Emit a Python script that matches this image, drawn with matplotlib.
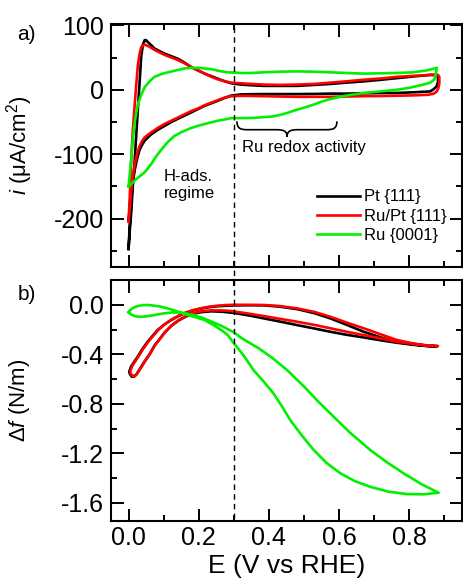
import matplotlib
matplotlib.use("Agg")
import matplotlib.pyplot as plt
from matplotlib.ticker import MultipleLocator, FixedLocator
from matplotlib.path import Path
from matplotlib.patches import PathPatch
from matplotlib.lines import Line2D
import matplotlib.transforms as mtransforms

plt.rcParams['font.family'] = ['Liberation Sans', 'DejaVu Sans']
plt.rcParams['mathtext.fontset'] = 'custom'
plt.rcParams['mathtext.rm'] = 'Liberation Sans'
plt.rcParams['mathtext.it'] = 'Liberation Sans:italic'
plt.rcParams['axes.unicode_minus'] = False

# ---------------- data: panel a (cyclic voltammograms) ----------------
labels = ["Pt {111}", "Ru/Pt {111}", "Ru {0001}"]
colors = ["#000000", "#ff0000", "#00f000"]

pt_cv_E = [0.000, 0.004, 0.008, 0.012, 0.017, 0.022, 0.027, 0.032, 0.036, 0.041, 0.046, 0.050,
           0.055, 0.065, 0.074, 0.088, 0.103, 0.122, 0.141, 0.160, 0.179, 0.198, 0.217, 0.236,
           0.255, 0.275, 0.293, 0.320, 0.350, 0.385, 0.430, 0.480, 0.530, 0.575, 0.620, 0.670,
           0.720, 0.765, 0.810, 0.860, 0.879, 0.882, 0.882, 0.878, 0.870, 0.860, 0.810, 0.765,
           0.720, 0.670, 0.620, 0.575, 0.530, 0.480, 0.430, 0.385, 0.340, 0.320, 0.293, 0.275,
           0.255, 0.236, 0.217, 0.198, 0.179, 0.160, 0.141, 0.122, 0.103, 0.084, 0.065, 0.055,
           0.046, 0.038, 0.031, 0.024, 0.017, 0.012, 0.008, 0.004, 0.000]
pt_cv_i = [-247, -215, -188, -150, -115, -70, -27, 15, 51, 70, 77, 77,
           74, 69, 64, 60, 56, 52, 48, 42, 35, 30, 25, 21,
           17, 13, 10, 8, 7, 6, 6, 6, 7.5, 9, 11, 13,
           15.5, 18, 20.5, 23, 23, 20, 12, 5, 1, -2.6, -4, -5,
           -5, -5.5, -6, -6, -6.5, -6.7, -6.7, -6.7, -7, -7.3, -9, -12.5,
           -17, -21, -25, -30, -35, -40, -45, -50, -56, -62, -69, -74,
           -79, -86, -94, -108, -126, -145, -167, -205, -247]

rupt_cv_E = [0.000, 0.004, 0.008, 0.012, 0.017, 0.022, 0.027, 0.032, 0.036, 0.041, 0.046, 0.055,
             0.065, 0.074, 0.088, 0.103, 0.122, 0.141, 0.160, 0.179, 0.198, 0.217, 0.236, 0.255,
             0.275, 0.293, 0.320, 0.350, 0.385, 0.430, 0.480, 0.530, 0.575, 0.620, 0.670, 0.720,
             0.765, 0.810, 0.860, 0.882, 0.886, 0.886, 0.883, 0.878, 0.870, 0.855, 0.810, 0.765,
             0.720, 0.670, 0.620, 0.575, 0.530, 0.480, 0.430, 0.385, 0.340, 0.320, 0.293, 0.275,
             0.255, 0.236, 0.217, 0.198, 0.179, 0.160, 0.141, 0.122, 0.103, 0.084, 0.065, 0.055,
             0.046, 0.038, 0.031, 0.024, 0.017, 0.012, 0.008, 0.004, 0.000]
rupt_cv_i = [-204, -160, -105, -65, -27, 8, 40, 57, 66, 69, 70, 68,
             65, 62, 58, 54, 50, 46, 41, 35, 30, 25, 20, 16,
             13, 11, 10, 9, 8, 7.5, 8, 9, 11, 13, 15.5, 17.5,
             20, 21.5, 23, 23, 20, 10, 2, -3, -6, -7.8, -8.8, -9.3,
             -9.7, -10, -10.5, -11, -11, -11, -10.5, -10, -9.5, -9.5, -10, -12,
             -16, -20, -24, -29, -33, -38, -43, -48, -53, -59, -66, -70,
             -74, -80, -88, -100, -118, -136, -155, -180, -204]

ru_cv_E = [0.000, 0.004, 0.008, 0.012, 0.017, 0.022, 0.027, 0.036, 0.046, 0.060, 0.074, 0.092,
           0.112, 0.135, 0.160, 0.180, 0.198, 0.217, 0.236, 0.260, 0.283, 0.320, 0.350, 0.385,
           0.430, 0.480, 0.530, 0.575, 0.620, 0.670, 0.720, 0.765, 0.810, 0.850, 0.879, 0.876,
           0.872, 0.860, 0.841, 0.800, 0.765, 0.720, 0.670, 0.620, 0.575, 0.550, 0.528, 0.505,
           0.480, 0.455, 0.433, 0.410, 0.385, 0.360, 0.338, 0.320, 0.293, 0.275, 0.255, 0.225,
           0.198, 0.175, 0.150, 0.130, 0.112, 0.098, 0.084, 0.074, 0.065, 0.055, 0.046, 0.030,
           0.017, 0.008, 0.000]
ru_cv_i = [-150, -128, -105, -78, -53, -36, -22, -8, 4, 13, 20, 24,
           27, 30, 33, 34, 34, 33, 32, 29, 27, 26, 26, 27,
           28, 28.5, 28, 27, 26, 25, 25.5, 26, 27, 30, 34, 25,
           16, 11, 8, 3, 0, -2.5, -5, -9, -14.5, -18.5, -23, -27,
           -31, -35.5, -39, -41.5, -42.5, -43.5, -44, -44, -44, -46, -48, -52,
           -56, -60, -66, -72, -81, -90, -99.5, -107, -115, -122, -128, -135,
           -141, -146, -150]

# ---------------- data: panel b (surface stress change) ----------------
pt_df_E = [0.010, 0.004, 0.002, 0.007, 0.014, 0.026, 0.039, 0.054, 0.069, 0.083, 0.102, 0.121,
           0.140, 0.159, 0.182, 0.206, 0.229, 0.254, 0.279, 0.311, 0.350, 0.385, 0.430, 0.480,
           0.530, 0.575, 0.620, 0.670, 0.720, 0.765, 0.810, 0.850, 0.879, 0.850, 0.810, 0.765,
           0.720, 0.670, 0.620, 0.575, 0.530, 0.480, 0.430, 0.385, 0.350, 0.320, 0.293, 0.265,
           0.236, 0.207, 0.179, 0.160, 0.141, 0.122, 0.103, 0.088, 0.074, 0.060, 0.046, 0.032,
           0.022, 0.016, 0.010]
pt_df_v = [-0.580, -0.562, -0.541, -0.500, -0.470, -0.420, -0.360, -0.300, -0.250, -0.204, -0.160, -0.124,
           -0.095, -0.070, -0.048, -0.032, -0.020, -0.012, -0.008, -0.005, -0.004, -0.005, -0.015, -0.035,
           -0.068, -0.110, -0.160, -0.218, -0.265, -0.299, -0.320, -0.332, -0.336, -0.334, -0.323, -0.307,
           -0.288, -0.264, -0.242, -0.218, -0.192, -0.164, -0.135, -0.110, -0.090, -0.075, -0.064, -0.056,
           -0.053, -0.060, -0.076, -0.100, -0.130, -0.170, -0.224, -0.280, -0.330, -0.400, -0.457, -0.520,
           -0.565, -0.580, -0.580]

rupt_df_E = [0.012, 0.006, 0.005, 0.010, 0.017, 0.029, 0.042, 0.057, 0.072, 0.086, 0.104, 0.123,
             0.142, 0.161, 0.184, 0.208, 0.231, 0.256, 0.280, 0.310, 0.350, 0.385, 0.430, 0.480,
             0.530, 0.575, 0.620, 0.670, 0.720, 0.765, 0.810, 0.850, 0.882, 0.850, 0.810, 0.765,
             0.720, 0.670, 0.620, 0.575, 0.530, 0.480, 0.430, 0.385, 0.350, 0.320, 0.290, 0.265,
             0.236, 0.207, 0.181, 0.162, 0.143, 0.124, 0.105, 0.090, 0.076, 0.062, 0.048, 0.034,
             0.024, 0.018, 0.012]
rupt_df_v = [-0.575, -0.558, -0.538, -0.497, -0.466, -0.415, -0.355, -0.296, -0.246, -0.200, -0.156, -0.120,
             -0.090, -0.065, -0.043, -0.027, -0.015, -0.007, -0.002, 0.000, -0.001, -0.002, -0.010, -0.029,
             -0.058, -0.097, -0.142, -0.190, -0.240, -0.285, -0.312, -0.328, -0.334, -0.330, -0.316, -0.299,
             -0.272, -0.245, -0.217, -0.190, -0.163, -0.137, -0.113, -0.091, -0.075, -0.062, -0.050, -0.046,
             -0.045, -0.053, -0.070, -0.094, -0.124, -0.164, -0.218, -0.274, -0.324, -0.394, -0.452, -0.515,
             -0.560, -0.575, -0.575]

ru_df_E = [0.000, 0.006, 0.015, 0.027, 0.040, 0.055, 0.070, 0.093, 0.115, 0.141, 0.160, 0.190,
           0.217, 0.240, 0.264, 0.283, 0.300, 0.320, 0.338, 0.356, 0.385, 0.413, 0.437, 0.461,
           0.495, 0.528, 0.565, 0.604, 0.645, 0.689, 0.740, 0.794, 0.840, 0.884, 0.835, 0.784,
           0.735, 0.689, 0.630, 0.575, 0.540, 0.500, 0.452, 0.410, 0.370, 0.340, 0.320, 0.300,
           0.270, 0.240, 0.210, 0.180, 0.150, 0.122, 0.100, 0.074, 0.050, 0.036, 0.025, 0.017,
           0.008, 0.000]
ru_df_v = [-0.061, -0.040, -0.022, -0.010, -0.003, -0.002, -0.006, -0.016, -0.032, -0.056, -0.075, -0.100,
           -0.124, -0.160, -0.204, -0.245, -0.310, -0.380, -0.450, -0.528, -0.620, -0.716, -0.820, -0.932,
           -1.060, -1.174, -1.280, -1.362, -1.425, -1.471, -1.510, -1.530, -1.532, -1.519, -1.450, -1.362,
           -1.270, -1.174, -1.030, -0.878, -0.780, -0.660, -0.528, -0.430, -0.350, -0.300, -0.265, -0.222,
           -0.178, -0.140, -0.105, -0.080, -0.063, -0.063, -0.070, -0.083, -0.094, -0.097, -0.095, -0.091,
           -0.080, -0.061]

cv_series = [(pt_cv_E, pt_cv_i), (rupt_cv_E, rupt_cv_i), (ru_cv_E, ru_cv_i)]
df_series = [(pt_df_E, pt_df_v), (rupt_df_E, rupt_df_v), (ru_df_E, ru_df_v)]

E_marker = 0.3
x_ticks = [0.0, 0.2, 0.4, 0.6, 0.8]
x_ticklabels = ["0.0", "0.2", "0.4", "0.6", "0.8"]
cv_ticks = [-200, -100, 0, 100]
df_ticks = [-1.6, -1.2, -0.8, -0.4, 0.0]
df_ticklabels = ["-1.6", "-1.2", "-0.8", "-0.4", "0.0"]

# annotation: curly brace for "Ru redox activity" (data coords of panel a)
brace_x0, brace_x1, brace_xm = 0.309, 0.594, 0.452
brace_ytop, brace_ymid, brace_ytip = -49, -62, -73

# ---------------- figure ----------------
W, H = 463, 580
fig = plt.figure(figsize=(W / 100, H / 100), dpi=100)
L, R = 111, 462.5
ax1 = fig.add_axes([L / W, 1 - 267 / H, (R - L) / W, (267 - 24) / H])
ax2 = fig.add_axes([L / W, 1 - 520.7 / H, (R - L) / W, (520.7 - 280) / H])

lw = 1.9
for (E, v), c, lab in zip(cv_series, colors, labels):
    ax1.plot(E, v, color=c, lw=lw, label=lab, solid_joinstyle='round')
for (E, v), c in zip(df_series, colors):
    ax2.plot(E, v, color=c, lw=lw, solid_joinstyle='round')

for ax in (ax1, ax2):
    ax.set_xlim(-0.05, 0.952)
    ax.xaxis.set_major_locator(FixedLocator(x_ticks))
    ax.xaxis.set_minor_locator(MultipleLocator(0.1))
    ax.tick_params(which='both', direction='in', top=True, right=True, width=1.4, labelsize=18)
    ax.tick_params(which='major', length=9, pad=5)
    ax.tick_params(which='minor', length=4.5)
    for s in ax.spines.values():
        s.set_linewidth(1.5)

ax1.set_ylim(-275, 102)
ax1.yaxis.set_major_locator(FixedLocator(cv_ticks))
ax1.yaxis.set_minor_locator(MultipleLocator(50))
ax1.tick_params(labelbottom=False)

ax2.set_ylim(-1.745, 0.2)
ax2.yaxis.set_major_locator(FixedLocator(df_ticks))
ax2.set_yticklabels(df_ticklabels)
ax2.yaxis.set_minor_locator(MultipleLocator(0.2))
ax2.set_xticklabels(x_ticklabels)
ax2.tick_params(axis='x', pad=4)

ax1.set_ylabel(r"$i$ (μA/cm$^2$)", fontsize=16)
ax1.yaxis.set_label_coords(-0.215, 0.5)
ax2.set_ylabel(r"$\mathit{Δf}$ (N/m)", fontsize=16)
ax2.yaxis.set_label_coords(-0.225, 0.5)
ax2.set_xlabel("E (V vs RHE)", fontsize=19)
ax2.xaxis.set_label_coords(0.5, -0.19)
ax2.xaxis.label.set_va('center')

# dashed marker line spanning both panels
trans = mtransforms.blended_transform_factory(ax1.transData, fig.transFigure)
fig.add_artist(Line2D([E_marker, E_marker], [1 - 27 / H, 1 - 520 / H], transform=trans,
                      color='black', lw=1.0, ls=(0, (4, 3))))

# brace
verts = [(brace_x0, brace_ytop), (brace_x0, brace_ymid + 2), (brace_x0 + 0.01, brace_ymid), (brace_x0 + 0.03, brace_ymid),
         (brace_xm - 0.03, brace_ymid),
         (brace_xm - 0.01, brace_ymid), (brace_xm, brace_ymid - 2), (brace_xm, brace_ytip),
         (brace_xm, brace_ymid - 2), (brace_xm + 0.01, brace_ymid), (brace_xm + 0.03, brace_ymid),
         (brace_x1 - 0.03, brace_ymid),
         (brace_x1 - 0.01, brace_ymid), (brace_x1, brace_ymid + 2), (brace_x1, brace_ytop)]
codes = [Path.MOVETO, Path.CURVE4, Path.CURVE4, Path.CURVE4, Path.LINETO,
         Path.CURVE4, Path.CURVE4, Path.CURVE4, Path.CURVE4, Path.CURVE4, Path.CURVE4,
         Path.LINETO, Path.CURVE4, Path.CURVE4, Path.CURVE4]
ax1.add_patch(PathPatch(Path(verts, codes), fill=False, lw=1.2, edgecolor='black'))

ax1.text(0.324, -90, "Ru redox activity", fontsize=12, ha='left', va='center')
ax1.text(0.1, -148, "H-ads.\nregime", fontsize=12, ha='left', va='center', linespacing=1.2)

ax1.legend(frameon=False, loc='lower right', bbox_to_anchor=(0.955, 0.1), fontsize=12,
           handlelength=2.6, handletextpad=0.25, labelspacing=0.25, borderaxespad=0, borderpad=0)

fig.text(17 / W, 1 - 35 / H, "a)", fontsize=15, ha='left', va='center')
fig.text(18 / W, 1 - 294 / H, "b)", fontsize=15, ha='left', va='center')

fig.savefig("out.png", dpi=100)
